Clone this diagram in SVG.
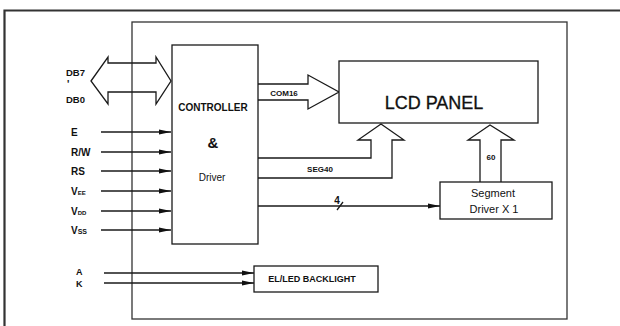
<svg xmlns="http://www.w3.org/2000/svg" width="620" height="326" viewBox="0 0 620 326">
<defs>
<style>
.box{fill:#fff;stroke:#1a1a1a;stroke-width:1.3}
.ln{fill:none;stroke:#1a1a1a;stroke-width:1.3}
.frame{fill:none;stroke:#333;stroke-width:1.3}
.t{font-family:"Liberation Sans",Arial,sans-serif;fill:#111}
.b{font-weight:bold}
</style>
<marker id="ah" viewBox="0 0 12 6" refX="12" refY="3" markerWidth="12" markerHeight="6" markerUnits="userSpaceOnUse" orient="auto">
<path d="M0,0.5 L12,3 L0,5.5 z" fill="#111"/>
</marker>
</defs>
<rect width="620" height="326" fill="#fff"/>
<path d="M4.5,326 V10.5 H620" fill="none" stroke="#333" stroke-width="2.2"/>
<rect class="frame" x="132" y="22" width="435" height="297"/>

<g id="connectors">
<polygon class="ln" points="91,81 108,57 108,63 156,63 156,57 171,81 156,104 156,92 108,92 108,104"/>
<polyline class="ln" points="258,84 308,84 308,75 339,92 308,109 308,100 258,100"/>
<polyline class="ln" points="258,158 371,158 371,140 358,140 381,124 404,140 392,140 392,178 258,178"/>
<polyline class="ln" points="480,182 480,140 468,140 490,125 514,140 501,140 501,182"/>
<line class="ln" x1="101" y1="132" x2="171" y2="132" marker-end="url(#ah)"/>
<line class="ln" x1="101" y1="152" x2="171" y2="152" marker-end="url(#ah)"/>
<line class="ln" x1="101" y1="171" x2="171" y2="171" marker-end="url(#ah)"/>
<line class="ln" x1="101" y1="191" x2="171" y2="191" marker-end="url(#ah)"/>
<line class="ln" x1="101" y1="211" x2="171" y2="211" marker-end="url(#ah)"/>
<line class="ln" x1="101" y1="230" x2="171" y2="230" marker-end="url(#ah)"/>
<line class="ln" x1="258" y1="206" x2="440" y2="206" marker-end="url(#ah)"/>
<line class="ln" x1="337" y1="210" x2="343" y2="202"/>
<line class="ln" x1="104" y1="273" x2="254" y2="273" marker-end="url(#ah)"/>
<line class="ln" x1="104" y1="283" x2="254" y2="283" marker-end="url(#ah)"/>
<text class="t b" x="284" y="96" font-size="8" text-anchor="middle">COM16</text>
<text class="t b" x="320" y="172" font-size="8" text-anchor="middle">SEG40</text>
<text class="t b" x="491" y="160" font-size="8" text-anchor="middle">60</text>
<text class="t b" x="337" y="204" font-size="10" text-anchor="middle">4</text>
</g>

<g id="inputs">
<text class="t b" x="66" y="76" font-size="9.5">DB7</text>
<text class="t b" x="67" y="88" font-size="10">'</text>
<text class="t b" x="66" y="103" font-size="9.5">DB0</text>
<text class="t b" x="71" y="135.5" font-size="10">E</text>
<text class="t b" x="71" y="155.5" font-size="10">R/W</text>
<text class="t b" x="71" y="174.5" font-size="10">RS</text>
<text class="t b" x="71" y="194.5" font-size="10">V<tspan font-size="6">EE</tspan></text>
<text class="t b" x="71" y="214.5" font-size="10">V<tspan font-size="6">DD</tspan></text>
<text class="t b" x="71" y="233.5" font-size="10">V<tspan font-size="7">SS</tspan></text>
<text class="t b" x="76" y="275" font-size="9">A</text>
<text class="t b" x="76" y="287" font-size="9">K</text>
</g>

<g id="controller">
<rect class="box" x="172" y="45" width="86" height="199"/>
<text class="t b" x="213" y="111" font-size="10" text-anchor="middle">CONTROLLER</text>
<text class="t b" x="213" y="148" font-size="15" text-anchor="middle">&amp;</text>
<text class="t" x="212" y="181" font-size="10" text-anchor="middle">Driver</text>
</g>

<g id="lcd-panel">
<rect class="box" x="339" y="61" width="199" height="62"/>
<text class="t" x="434" y="108.5" font-size="18" text-anchor="middle" stroke="#111" stroke-width="0.3">LCD PANEL</text>
</g>

<g id="segment-driver">
<rect class="box" x="440" y="182" width="112" height="37"/>
<text class="t" x="493" y="197" font-size="11" text-anchor="middle">Segment</text>
<text class="t" x="494" y="213" font-size="11" text-anchor="middle">Driver X 1</text>
</g>

<g id="backlight">
<rect class="box" x="254" y="266" width="124" height="26"/>
<text class="t b" x="312" y="282" font-size="9" text-anchor="middle">EL/LED BACKLIGHT</text>
</g>
</svg>
